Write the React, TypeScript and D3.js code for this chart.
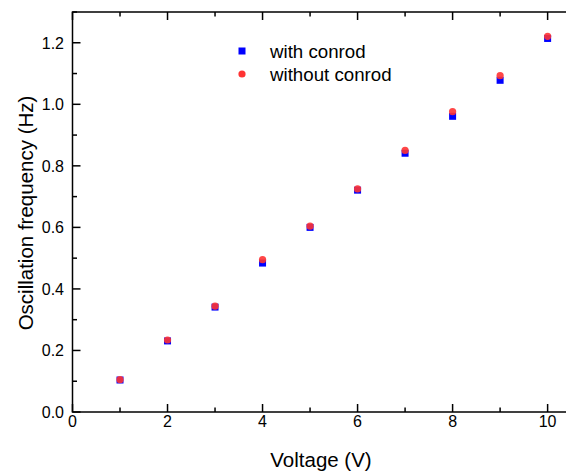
import React, { useEffect, useRef } from "react";
import * as d3 from "d3";

const voltages = [1, 2, 3, 4, 5, 6, 7, 8, 9, 10];
const withConrod = [0.104, 0.231, 0.341, 0.484, 0.6, 0.721, 0.841, 0.961, 1.078, 1.214];
const withoutConrod = [0.105, 0.234, 0.344, 0.495, 0.604, 0.725, 0.85, 0.976, 1.093, 1.221];
const xTicks = [0, 2, 4, 6, 8, 10];
const yTicks = [0, 0.2, 0.4, 0.6, 0.8, 1.0, 1.2];

const W = 566;
const H = 472;

const App = () => {
  const ref = useRef<SVGSVGElement>(null);

  useEffect(() => {
    const svg = d3.select(ref.current);
    svg.selectAll("*").remove();

    const x = d3.scaleLinear().domain([0, 10.45]).range([72.5, 569]);
    const y = d3.scaleLinear().domain([0, 1.3]).range([412, 12]);
    const font = "Arial, 'Liberation Sans', sans-serif";

    const g = svg.append("g");

    // frame
    g.append("rect")
      .attr("x", x(0))
      .attr("y", y(1.3))
      .attr("width", x(10.45) - x(0))
      .attr("height", y(0) - y(1.3))
      .attr("fill", "none")
      .attr("stroke", "#000")
      .attr("stroke-width", 1.5);

    // x ticks (inward, bottom and top)
    d3.range(0, 10.5, 1).forEach((v) => {
      const major = v % 2 === 0;
      const len = major ? 8 : 4.5;
      g.append("line")
        .attr("x1", x(v)).attr("x2", x(v))
        .attr("y1", y(0)).attr("y2", y(0) - len)
        .attr("stroke", "#000").attr("stroke-width", 1.5);
      g.append("line")
        .attr("x1", x(v)).attr("x2", x(v))
        .attr("y1", y(1.3)).attr("y2", y(1.3) + len)
        .attr("stroke", "#000").attr("stroke-width", 1.5);
    });

    // y ticks (inward, left)
    d3.range(0, 1.31, 0.1).forEach((v, i) => {
      const len = i % 2 === 0 ? 8 : 4.5;
      g.append("line")
        .attr("x1", x(0)).attr("x2", x(0) + len)
        .attr("y1", y(v)).attr("y2", y(v))
        .attr("stroke", "#000").attr("stroke-width", 1.5);
    });

    g.selectAll(".xl")
      .data(xTicks)
      .enter()
      .append("text")
      .attr("x", (d) => x(d))
      .attr("y", 427)
      .attr("text-anchor", "middle")
      .attr("font-family", font)
      .attr("font-size", 16)
      .text((d) => d);

    g.selectAll(".yl")
      .data(yTicks)
      .enter()
      .append("text")
      .attr("x", 64)
      .attr("y", (d) => y(d) + 5.8)
      .attr("text-anchor", "end")
      .attr("font-family", font)
      .attr("font-size", 16)
      .text((d) => d.toFixed(1));

    g.append("text")
      .attr("x", 321)
      .attr("y", 466.5)
      .attr("text-anchor", "middle")
      .attr("font-family", font)
      .attr("font-size", 20.5)
      .text("Voltage (V)");

    g.append("text")
      .attr("transform", `translate(33, 213) rotate(-90)`)
      .attr("text-anchor", "middle")
      .attr("font-family", font)
      .attr("font-size", 20.5)
      .text("Oscillation frequency (Hz)");

    // series
    const s = 7;
    g.selectAll(".sq")
      .data(voltages)
      .enter()
      .append("rect")
      .attr("x", (d) => x(d) - s / 2)
      .attr("y", (d, i) => y(withConrod[i]) - s / 2)
      .attr("width", s)
      .attr("height", s)
      .attr("fill", "#0000ff");

    g.selectAll(".ci")
      .data(voltages)
      .enter()
      .append("circle")
      .attr("cx", (d) => x(d))
      .attr("cy", (d, i) => y(withoutConrod[i]))
      .attr("r", 3.6)
      .attr("fill", "#ff3333")
      .attr("fill-opacity", 0.9);

    // legend
    g.append("rect")
      .attr("x", 242 - s / 2)
      .attr("y", 51 - s / 2)
      .attr("width", s)
      .attr("height", s)
      .attr("fill", "#0000ff");
    g.append("circle")
      .attr("cx", 242)
      .attr("cy", 74)
      .attr("r", 3.6)
      .attr("fill", "#ff3333");
    g.append("text")
      .attr("x", 270)
      .attr("y", 58)
      .attr("font-family", font)
      .attr("font-size", 18.7)
      .text("with conrod");
    g.append("text")
      .attr("x", 270)
      .attr("y", 81)
      .attr("font-family", font)
      .attr("font-size", 18.7)
      .text("without conrod");
  }, []);

  return (
    <svg
      ref={ref}
      width={W}
      height={H}
      style={{ position: "absolute", left: 0, top: 0, background: "#fff" }}
    />
  );
};

export default App;
